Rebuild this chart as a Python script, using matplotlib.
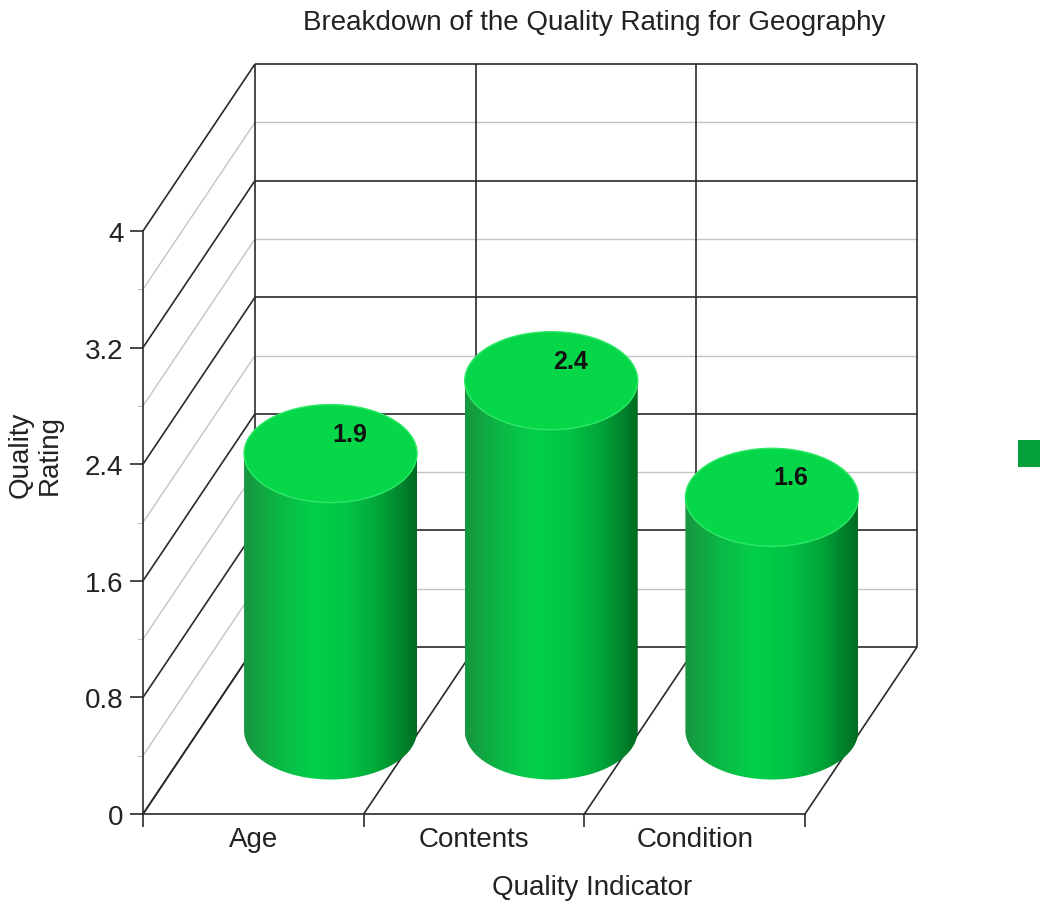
import numpy as np
import matplotlib
matplotlib.use('Agg')
import matplotlib.pyplot as plt
from matplotlib.patches import Ellipse, PathPatch, Rectangle
from matplotlib.path import Path
from matplotlib.colors import LinearSegmentedColormap

categories = ['Age', 'Contents', 'Condition']
ratings = [1.9, 2.4, 1.6]
y_ticks = [0, 0.8, 1.6, 2.4, 3.2, 4.0]
y_tick_labels = ['0', '0.8', '1.6', '2.4', '3.2', '4']
y_half_ticks = [0.4, 1.2, 2.0, 2.8, 3.6]

plt.rcParams['font.family'] = ['Liberation Sans', 'DejaVu Sans']
TXT = '#222222'
DARK = '#2a2a2a'
LIGHT = '#c4c4c4'

W, H = 1040, 903
fig = plt.figure(figsize=(W / 100, H / 100), dpi=100)

# front face of the box (pixels)
left, right, bottom, top = 143, 805, 815, 232
n = len(categories)
ymax = y_ticks[-1]
px_x = (right - left) / n        # pixels per category
px_y = (bottom - top) / ymax     # pixels per rating unit

# full-figure axes sharing the data units of the front face, for the 3D parts
box = fig.add_axes([0, 0, 1, 1], zorder=0)
box.set_xlim(-left / px_x, (W - left) / px_x)
box.set_ylim(-(H - bottom) / px_y, bottom / px_y)
box.axis('off')

ax = fig.add_axes([left / W, 1 - bottom / H, (right - left) / W, (bottom - top) / H], zorder=1)
ax.patch.set_visible(False)

# depth of the box in data units
dx = 112 / px_x
dy = 167 / px_y

def line(xs, ys, color=DARK, lw=1.2, z=1):
    box.plot(xs, ys, color=color, lw=lw, zorder=z, solid_capstyle='butt')

# back wall and side wall grid
for v in y_half_ticks:
    line([dx, n + dx], [v + dy, v + dy], LIGHT, 1.0)
    line([0, dx], [v, v + dy], LIGHT, 1.0)
for v in y_ticks:
    line([dx, n + dx], [v + dy, v + dy])
    line([0, dx], [v, v + dy])
for i in range(n + 1):
    line([i + dx, i + dx], [dy, ymax + dy])
    line([i, i + dx], [0, dy])

# cylinders
body_cmap = LinearSegmentedColormap.from_list(
    'body', ['#16953f', '#0bb845', '#02d04a', '#00c444', '#00a338', '#006c22'])
grad = np.linspace(0, 1, 256)[None, :]
a = 86.5 / px_x       # radius along x
b = 49 / px_y         # radius along y (ellipse)
base = 0.5 * dy
shift = 0.35

for i, v in enumerate(ratings):
    cx = i + 0.5 + shift
    ytop = base + v
    t = np.linspace(np.pi, 2 * np.pi, 80)
    verts = [(cx - a, ytop), (cx - a, base)]
    verts += list(zip(cx + a * np.cos(t), base + b * np.sin(t)))
    verts += [(cx + a, ytop), (cx - a, ytop)]
    clip = PathPatch(Path(verts), transform=box.transData)
    im = box.imshow(grad, extent=[cx - a, cx + a, base - b, ytop], aspect='auto',
                    cmap=body_cmap, interpolation='bilinear', zorder=3)
    im.set_clip_path(clip)
    box.add_patch(Ellipse((cx, ytop), 2 * a, 2 * b, facecolor='#05d748',
                          edgecolor='#2fe868', lw=1.0, zorder=4))
    box.text(cx + 0.086, ytop + 0.137, f'{v}', ha='center', va='center',
             fontsize=18, fontweight='bold', color='#111111', zorder=6)

box.set_xlim(-left / px_x, (W - left) / px_x)
box.set_ylim(-(H - bottom) / px_y, bottom / px_y)

ax.set_xlim(0, n)
ax.set_ylim(0, ymax)

for s in ['top', 'right']:
    ax.spines[s].set_visible(False)
for s in ['left', 'bottom']:
    ax.spines[s].set_color(DARK)
    ax.spines[s].set_linewidth(1.2)

ax.set_yticks(y_ticks, y_tick_labels)
ax.set_yticks(y_half_ticks, minor=True)
ax.set_xticks(range(n + 1), [''] * (n + 1))
ax.set_xticks([i + 0.5 for i in range(n)], categories, minor=True)
ax.tick_params(axis='y', which='major', length=9.5, width=1.2, color=DARK,
               pad=4.5, labelsize=20, labelcolor=TXT)
ax.tick_params(axis='y', which='minor', length=4, width=0.8, color=LIGHT)
ax.tick_params(axis='x', which='major', length=9.5, width=1.2, color=DARK)
ax.tick_params(axis='x', which='minor', length=0, pad=9, labelsize=20, labelcolor=TXT)

ax.set_xlabel('Quality Indicator', fontsize=20, color=TXT, va='top')
ax.xaxis.set_label_coords((592 - left) / (right - left), -(875 - bottom) / (bottom - top))

fig.text(594 / W, 1 - 10 / H, 'Breakdown of the Quality Rating for Geography',
         ha='center', va='top', fontsize=20, color=TXT)
fig.text(35 / W, 1 - 455 / H, 'Quality\nRating', rotation=90, ha='center',
         va='center', multialignment='center', fontsize=20, color=TXT, linespacing=1.15)

# legend swatch, partly off the right edge
fig.patches.append(Rectangle((1018 / W, 1 - 468 / H), 27 / W, 27 / H,
                             transform=fig.transFigure, facecolor='#05a03c',
                             edgecolor='none'))

fig.savefig('out.png', dpi=100)
